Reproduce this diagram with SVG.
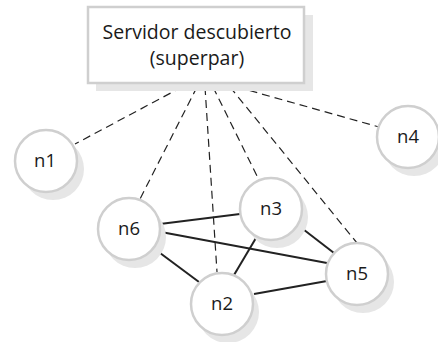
<svg xmlns="http://www.w3.org/2000/svg" width="438" height="342" viewBox="0 0 438 342">
<style>
.shadow{fill:#e6e6e6}
.node{fill:#fff;stroke:#cfcfcf;stroke-width:2.5}
.box{fill:#fff;stroke:#cfcfcf;stroke-width:2.5}
.lbl{font-family:"Open Sans",sans-serif;font-size:18.5px;fill:#1a1a1a;text-anchor:middle}
.big{font-size:19.5px}
.dash{stroke:#222;stroke-width:1.2;stroke-dasharray:8 5;fill:none}
.solid{stroke:#222;stroke-width:2;fill:none}
</style>
<rect width="438" height="342" fill="#fff"/>
<g id="connectors">
<line class="dash" x1="182" y1="87" x2="75" y2="144"/>
<line class="dash" x1="197" y1="87" x2="140" y2="199"/>
<line class="dash" x1="205" y1="87" x2="217" y2="272"/>
<line class="dash" x1="213" y1="87" x2="257" y2="176"/>
<line class="dash" x1="230" y1="87" x2="357" y2="243"/>
<line class="dash" x1="237" y1="87" x2="379" y2="127"/>
<line class="solid" x1="160" y1="224" x2="240" y2="214"/>
<line class="solid" x1="161" y1="232" x2="327" y2="263"/>
<line class="solid" x1="156" y1="250" x2="199" y2="282"/>
<line class="solid" x1="256" y1="238" x2="234" y2="275"/>
<line class="solid" x1="299" y1="226" x2="334" y2="253"/>
<line class="solid" x1="254" y1="294" x2="327" y2="281"/>
</g>
<g id="server">
<rect class="shadow" x="96" y="15" width="217" height="76"/>
<rect class="box" x="88" y="7" width="216" height="76"/>
<text class="lbl big" x="197" y="39">Servidor descubierto</text>
<text class="lbl big" x="197" y="65">(superpar)</text>
</g>
<g id="n1">
<circle class="shadow" cx="53" cy="169" r="31"/>
<circle class="node" cx="46" cy="161" r="31"/>
<text class="lbl" x="45" y="167">n1</text>
</g>
<g id="n4">
<circle class="shadow" cx="414" cy="145" r="31"/>
<circle class="node" cx="408" cy="137" r="31"/>
<text class="lbl" x="408" y="143">n4</text>
</g>
<g id="n6">
<circle class="shadow" cx="135" cy="237" r="31"/>
<circle class="node" cx="129" cy="229" r="31"/>
<text class="lbl" x="129" y="235">n6</text>
</g>
<g id="n3">
<circle class="shadow" cx="277" cy="217" r="31"/>
<circle class="node" cx="271" cy="209" r="31"/>
<text class="lbl" x="271" y="215">n3</text>
</g>
<g id="n5">
<circle class="shadow" cx="363" cy="282" r="31"/>
<circle class="node" cx="357" cy="274" r="31"/>
<text class="lbl" x="357" y="280">n5</text>
</g>
<g id="n2">
<circle class="shadow" cx="228" cy="312" r="31"/>
<circle class="node" cx="222" cy="304" r="31"/>
<text class="lbl" x="222" y="310">n2</text>
</g>
</svg>
